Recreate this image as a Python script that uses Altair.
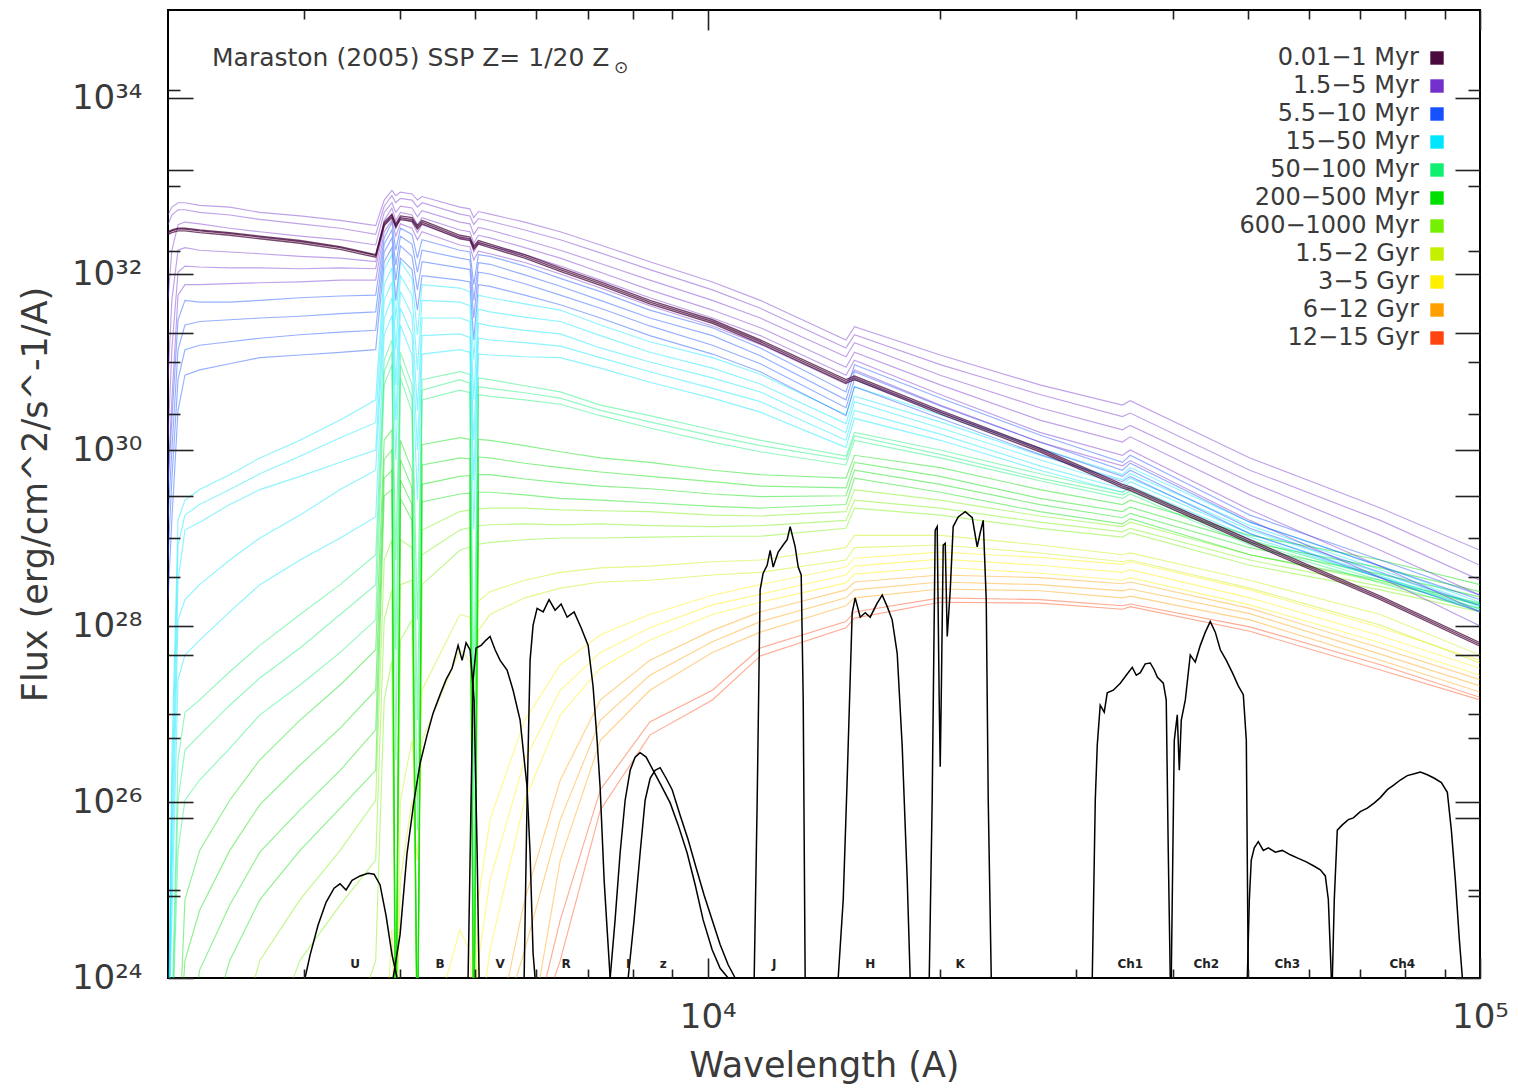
import sys
import altair as alt
import pandas as pd

W, H = 1312, 968
FONT = "DejaVu Sans"
TXT = "#3a3a3a"

# ---------------- age bins (legend) ----------------
AGE_BINS = ["0.01−1 Myr", "1.5−5 Myr", "5.5−10 Myr", "15−50 Myr", "50−100 Myr",
            "200−500 Myr", "600−1000 Myr", "1.5−2 Gyr", "3−5 Gyr", "6−12 Gyr", "12−15 Gyr"]
AGE_COLORS = ["#4a0a3e", "#7330cc", "#1650ff", "#00e6ff", "#10f070",
              "#00e000", "#74f000", "#c4f000", "#fff000", "#ffa000", "#ff4410"]

# ---------------- spectra: log10 wavelength grid (A) and log10 flux ----------------
LOGLAM_GRID = [3.301, 3.306, 3.314, 3.323, 3.342, 3.381, 3.420, 3.472, 3.524, 3.570,
               3.581, 3.591, 3.596, 3.602, 3.617, 3.624, 3.630, 3.679, 3.692, 3.697, 3.703, 3.718,
               3.763, 3.809, 3.861, 3.925, 4.006, 4.068, 4.179, 4.190, 4.301, 4.430,
               4.537, 4.547, 4.702, 4.871, 5.000]

A1 = [32.48, 32.50, 32.52, 32.52, 32.50, 32.47, 32.43, 32.38, 32.31, 32.22,
      32.59, 32.68, 32.57, 32.66, 32.64, 32.55, 32.61, 32.44, 32.42, 32.32, 32.38, 32.34,
      32.22, 32.07, 31.91, 31.70, 31.48, 31.25, 30.80, 30.84, 30.45, 30.02, 29.61, 29.58, 28.98, 28.34, 27.81]
A2 = [32.45, 32.47, 32.49, 32.49, 32.47, 32.44, 32.40, 32.35, 32.28, 32.19,
      32.55, 32.64, 32.53, 32.62, 32.60, 32.51, 32.57, 32.40, 32.38, 32.28, 32.34, 32.30,
      32.18, 32.03, 31.87, 31.66, 31.44, 31.21, 30.76, 30.80, 30.41, 29.98, 29.57, 29.54, 28.94, 28.30, 27.77]
A3 = [32.47, 32.49, 32.51, 32.51, 32.49, 32.46, 32.42, 32.37, 32.30, 32.21,
      32.57, 32.66, 32.55, 32.64, 32.62, 32.53, 32.59, 32.42, 32.40, 32.30, 32.36, 32.32,
      32.20, 32.05, 31.89, 31.68, 31.46, 31.23, 30.78, 30.82, 30.43, 30.00, 29.59, 29.56, 28.96, 28.32, 27.79]

B1 = [32.67, 32.76, 32.81, 32.81, 32.78, 32.76, 32.70, 32.66, 32.61, 32.55,
      32.84, 32.95, 32.89, 32.93, 32.91, 32.84, 32.88, 32.76, 32.74, 32.64, 32.71, 32.68,
      32.59, 32.48, 32.33, 32.14, 31.91, 31.70, 31.25, 31.40, 31.08, 30.74, 30.51, 30.56, 29.91, 29.34, 28.86]
B2 = [32.56, 32.67, 32.73, 32.73, 32.70, 32.67, 32.62, 32.57, 32.52, 32.45,
      32.77, 32.89, 32.81, 32.86, 32.84, 32.76, 32.81, 32.68, 32.66, 32.56, 32.63, 32.60,
      32.50, 32.39, 32.24, 32.05, 31.82, 31.61, 31.16, 31.31, 30.97, 30.63, 30.38, 30.42, 29.77, 29.20, 28.69]
B3 = [31.70, 32.27, 32.56, 32.59, 32.57, 32.52, 32.48, 32.43, 32.39, 32.33,
      32.70, 32.81, 32.70, 32.77, 32.75, 32.65, 32.72, 32.59, 32.57, 32.45, 32.53, 32.50,
      32.39, 32.27, 32.12, 31.93, 31.70, 31.50, 31.06, 31.22, 30.85, 30.48, 30.23, 30.28, 29.64, 29.03, 28.52]
B4 = [30.80, 31.70, 32.27, 32.30, 32.27, 32.25, 32.23, 32.20, 32.18, 32.14,
      32.61, 32.75, 32.61, 32.70, 32.67, 32.56, 32.64, 32.50, 32.48, 32.35, 32.44, 32.41,
      32.30, 32.18, 32.02, 31.82, 31.59, 31.39, 30.94, 31.11, 30.74, 30.34, 30.09, 30.15, 29.49, 28.86, 28.35]
B5 = [30.11, 31.14, 32.02, 32.09, 32.08, 32.07, 32.07, 32.06, 32.07, 32.06,
      32.55, 32.68, 32.52, 32.64, 32.59, 32.47, 32.56, 32.41, 32.39, 32.25, 32.35, 32.32,
      32.22, 32.09, 31.93, 31.73, 31.50, 31.30, 30.85, 31.02, 30.63, 30.20, 29.94, 30.00, 29.32, 28.68, 28.16]
B6 = [29.66, 30.57, 31.76, 31.88, 31.88, 31.89, 31.90, 31.91, 31.93, 31.93,
      32.48, 32.61, 32.43, 32.57, 32.52, 32.39, 32.48, 32.33, 32.31, 32.16, 32.26, 32.23,
      32.13, 32.00, 31.84, 31.64, 31.41, 31.20, 30.75, 30.91, 30.51, 30.09, 29.82, 29.88, 29.20, 28.55, 28.00]

C1 = [29.55, 30.34, 31.48, 31.70, 31.68, 31.68, 31.70, 31.73, 31.75, 31.76,
      32.41, 32.59, 32.27, 32.52, 32.45, 32.18, 32.39, 32.27, 32.25, 31.88, 32.22, 32.20,
      32.09, 31.95, 31.80, 31.59, 31.39, 31.16, 30.66, 30.97, 30.59, 30.17, 29.86, 29.94, 29.26, 28.75, 28.35]
C2 = [29.20, 30.00, 31.14, 31.42, 31.46, 31.48, 31.50, 31.52, 31.55, 31.57,
      32.34, 32.50, 32.10, 32.43, 32.34, 32.02, 32.27, 32.18, 32.16, 31.70, 32.13, 32.11,
      31.99, 31.86, 31.70, 31.50, 31.30, 31.07, 30.57, 30.89, 30.50, 30.09, 29.77, 29.85, 29.18, 28.68, 28.30]
C3 = [28.75, 29.66, 30.80, 31.14, 31.19, 31.23, 31.27, 31.31, 31.34, 31.36,
      32.25, 32.41, 31.93, 32.32, 32.20, 31.82, 32.14, 32.07, 32.05, 31.50, 32.02, 32.00,
      31.89, 31.76, 31.61, 31.41, 31.19, 30.98, 30.48, 30.80, 30.43, 30.02, 29.70, 29.77, 29.11, 28.61, 28.23]
C4 = [28.30, 29.20, 30.45, 30.85, 30.91, 30.98, 31.05, 31.08, 31.11, 31.14,
      32.14, 32.30, 31.70, 32.18, 32.05, 31.59, 31.98, 31.93, 31.91, 31.25, 31.88, 31.86,
      31.76, 31.65, 31.50, 31.30, 31.09, 30.89, 30.39, 30.72, 30.36, 29.95, 29.64, 29.70, 29.05, 28.55, 28.16]

D1 = [23.00, 26.48, 29.20, 29.43, 29.55, 29.72, 29.91, 30.11, 30.34, 30.57,
      32.05, 32.22, 31.48, 32.14, 31.95, 31.31, 31.88, 31.84, 31.80, 31.02, 31.76, 31.73,
      31.66, 31.59, 31.42, 31.23, 31.05, 30.86, 30.40, 30.72, 30.40, 30.02, 29.72, 29.80, 29.18, 28.68, 28.27]
D2 = [23.00, 26.02, 28.92, 29.26, 29.38, 29.55, 29.73, 29.93, 30.14, 30.31,
      31.88, 32.07, 31.14, 31.98, 31.76, 30.91, 31.70, 31.68, 31.64, 30.57, 31.60, 31.57,
      31.51, 31.46, 31.30, 31.11, 30.93, 30.75, 30.30, 30.61, 30.32, 29.94, 29.66, 29.73, 29.14, 28.64, 28.24]
D3 = [23.00, 25.57, 28.52, 29.09, 29.18, 29.38, 29.55, 29.70, 29.86, 30.00,
      31.70, 31.91, 30.74, 31.80, 31.53, 30.45, 31.50, 31.50, 31.46, 30.11, 31.44, 31.41,
      31.36, 31.32, 31.16, 31.00, 30.82, 30.66, 30.20, 30.55, 30.25, 29.89, 29.60, 29.68, 29.09, 28.60, 28.22]
D4 = [23.00, 25.11, 28.07, 28.30, 28.47, 28.75, 29.00, 29.26, 29.55, 29.77,
      31.50, 31.73, 30.34, 31.61, 31.31, 30.00, 31.30, 31.32, 31.28, 29.66, 31.27, 31.25,
      31.22, 31.18, 31.05, 30.89, 30.70, 30.55, 30.11, 30.45, 30.18, 29.82, 29.56, 29.64, 29.05, 28.57, 28.19]
D5 = [23.00, 24.66, 27.39, 27.67, 27.84, 28.16, 28.47, 28.75, 29.00, 29.24,
      31.31, 31.53, 29.89, 31.42, 31.08, 29.43, 31.09, 31.14, 31.11, 29.09, 31.09, 31.08,
      31.06, 31.05, 30.93, 30.77, 30.59, 30.43, 30.03, 30.36, 30.11, 29.77, 29.52, 29.59, 29.01, 28.55, 28.17]

E1 = [23.00, 23.50, 26.48, 27.02, 27.16, 27.48, 27.78, 28.13, 28.47, 28.81,
      31.02, 31.25, 28.75, 31.11, 30.74, 28.07, 30.80, 30.89, 30.86, 27.39, 30.82, 30.80,
      30.73, 30.66, 30.51, 30.39, 30.23, 30.11, 29.93, 30.20, 30.00, 29.73, 29.52, 29.57, 28.98, 28.55, 28.24]
E2 = [23.00, 23.30, 26.02, 26.59, 26.76, 27.10, 27.41, 27.75, 28.13, 28.47,
      30.89, 31.11, 27.73, 30.97, 30.59, 26.93, 30.68, 30.80, 30.76, 26.02, 30.72, 30.70,
      30.65, 30.59, 30.45, 30.32, 30.16, 30.05, 29.89, 30.16, 29.95, 29.68, 29.49, 29.53, 28.95, 28.52, 28.20]
E3 = [23.00, 23.20, 25.45, 26.02, 26.25, 26.61, 26.99, 27.33, 27.70, 28.07,
      30.74, 30.97, 26.48, 30.82, 30.43, 25.68, 30.57, 30.68, 30.65, 24.66, 30.63, 30.61,
      30.57, 30.52, 30.39, 30.25, 30.09, 29.98, 29.83, 30.11, 29.91, 29.65, 29.45, 29.50, 28.92, 28.49, 28.17]

F1 = [23.00, 23.00, 23.00, 24.89, 25.45, 26.02, 26.48, 26.93, 27.33, 27.73,
      30.11, 30.23, 23.00, 30.11, 29.77, 23.00, 30.06, 30.14, 30.12, 23.00, 30.12, 30.11,
      30.05, 29.98, 29.91, 29.86, 29.77, 29.72, 29.68, 29.94, 29.80, 29.55, 29.38, 29.43, 29.03, 28.75, 28.47]
F2 = [23.00, 23.00, 23.00, 24.20, 24.77, 25.45, 25.97, 26.42, 26.84, 27.27,
      29.89, 30.00, 23.00, 29.89, 29.57, 23.00, 29.83, 29.91, 29.90, 23.00, 29.92, 29.91,
      29.85, 29.80, 29.75, 29.70, 29.64, 29.59, 29.57, 29.86, 29.70, 29.45, 29.30, 29.35, 28.95, 28.66, 28.39]
F3 = [23.00, 23.00, 23.00, 23.00, 24.09, 24.83, 25.43, 25.91, 26.36, 26.82,
      29.68, 29.77, 23.00, 29.66, 29.38, 23.00, 29.61, 29.70, 29.71, 23.00, 29.72, 29.72,
      29.67, 29.63, 29.59, 29.56, 29.50, 29.47, 29.48, 29.77, 29.61, 29.38, 29.23, 29.28, 28.89, 28.59, 28.33]
F4 = [23.00, 23.00, 23.00, 23.00, 23.00, 24.20, 24.89, 25.45, 25.93, 26.36,
      29.48, 29.55, 23.00, 29.45, 29.20, 23.00, 29.41, 29.50, 29.51, 23.00, 29.52, 29.52,
      29.49, 29.45, 29.43, 29.40, 29.36, 29.34, 29.38, 29.68, 29.52, 29.30, 29.16, 29.22, 28.81, 28.52, 28.26]

G1 = [23.00, 23.00, 23.00, 23.00, 23.00, 23.00, 24.20, 24.89, 25.45, 26.02,
      28.75, 28.98, 23.00, 28.98, 28.89, 23.00, 29.09, 29.30, 29.32, 23.00, 29.33, 29.34,
      29.34, 29.32, 29.31, 29.30, 29.26, 29.25, 29.30, 29.55, 29.43, 29.25, 29.13, 29.18, 28.81, 28.50, 28.24]
G2 = [23.00, 23.00, 23.00, 23.00, 23.00, 23.00, 23.00, 24.20, 24.83, 25.34,
      28.07, 28.41, 23.00, 28.47, 28.52, 23.00, 28.81, 29.09, 29.12, 23.00, 29.14, 29.15,
      29.16, 29.15, 29.16, 29.14, 29.13, 29.14, 29.20, 29.43, 29.34, 29.18, 29.07, 29.11, 28.75, 28.45, 28.20]
G3 = [23.00, 23.00, 23.00, 23.00, 23.00, 23.00, 23.00, 23.00, 23.00, 24.20,
      27.16, 27.61, 23.00, 27.84, 28.07, 23.00, 28.47, 28.86, 28.90, 23.00, 28.93, 28.95,
      28.98, 29.00, 29.00, 29.01, 29.02, 29.02, 29.11, 29.34, 29.26, 29.11, 29.01, 29.06, 28.69, 28.41, 28.16]

H1 = [23.00, 23.00, 23.00, 23.00, 23.00, 23.00, 23.00, 23.00, 23.00, 23.00,
      23.00, 24.55, 23.00, 26.02, 26.70, 26.02, 27.27, 28.13, 28.10, 27.16, 28.28, 28.39,
      28.52, 28.61, 28.66, 28.68, 28.73, 28.75, 28.89, 29.03, 29.03, 28.92, 28.81, 28.83, 28.52, 28.13, 27.67]
H2 = [23.00, 23.00, 23.00, 23.00, 23.00, 23.00, 23.00, 23.00, 23.00, 23.00,
      23.00, 23.00, 23.00, 25.11, 26.02, 25.34, 26.70, 27.73, 27.60, 26.70, 27.95, 28.13,
      28.32, 28.43, 28.50, 28.52, 28.58, 28.61, 28.75, 28.89, 28.92, 28.83, 28.73, 28.75, 28.43, 28.01, 27.58]

I1 = [23.00, 23.00, 23.00, 23.00, 23.00, 23.00, 23.00, 23.00, 23.00, 23.00,
      23.00, 23.00, 23.00, 23.00, 23.00, 23.00, 23.00, 24.55, 24.30, 23.00, 24.90, 25.80,
      26.93, 27.56, 27.90, 28.13, 28.35, 28.47, 28.67, 28.77, 28.84, 28.78, 28.70, 28.73, 28.41, 27.98, 27.61]
I2 = [23.00, 23.00, 23.00, 23.00, 23.00, 23.00, 23.00, 23.00, 23.00, 23.00,
      23.00, 23.00, 23.00, 23.00, 23.00, 23.00, 23.00, 23.00, 23.00, 23.00, 24.20, 25.11,
      26.48, 27.27, 27.70, 27.98, 28.24, 28.36, 28.58, 28.68, 28.76, 28.69, 28.61, 28.64, 28.32, 27.89, 27.52]
I3 = [23.00, 23.00, 23.00, 23.00, 23.00, 23.00, 23.00, 23.00, 23.00, 23.00,
      23.00, 23.00, 23.00, 23.00, 23.00, 23.00, 23.00, 23.00, 23.00, 23.00, 23.30, 24.32,
      26.02, 26.99, 27.52, 27.84, 28.13, 28.27, 28.49, 28.59, 28.67, 28.60, 28.52, 28.55, 28.24, 27.81, 27.44]

J1 = [23.00, 23.00, 23.00, 23.00, 23.00, 23.00, 23.00, 23.00, 23.00, 23.00,
      23.00, 23.00, 23.00, 23.00, 23.00, 23.00, 23.00, 23.00, 23.00, 23.00, 23.00, 23.00,
      24.89, 26.25, 27.16, 27.61, 27.95, 28.16, 28.41, 28.50, 28.58, 28.55, 28.48, 28.50, 28.20, 27.75, 27.39]
J2 = [23.00, 23.00, 23.00, 23.00, 23.00, 23.00, 23.00, 23.00, 23.00, 23.00,
      23.00, 23.00, 23.00, 23.00, 23.00, 23.00, 23.00, 23.00, 23.00, 23.00, 23.00, 23.00,
      24.32, 25.80, 26.93, 27.44, 27.82, 28.05, 28.32, 28.41, 28.50, 28.47, 28.40, 28.42, 28.14, 27.68, 27.32]
J3 = [23.00, 23.00, 23.00, 23.00, 23.00, 23.00, 23.00, 23.00, 23.00, 23.00,
      23.00, 23.00, 23.00, 23.00, 23.00, 23.00, 23.00, 23.00, 23.00, 23.00, 23.00, 23.00,
      23.00, 25.34, 26.70, 27.27, 27.70, 27.93, 28.23, 28.32, 28.42, 28.40, 28.32, 28.34, 28.07, 27.61, 27.25]

K1 = [23.00, 23.00, 23.00, 23.00, 23.00, 23.00, 23.00, 23.00, 23.00, 23.00,
      23.00, 23.00, 23.00, 23.00, 23.00, 23.00, 23.00, 23.00, 23.00, 23.00, 23.00, 23.00,
      23.00, 24.66, 26.14, 26.91, 27.27, 27.75, 28.05, 28.16, 28.32, 28.30, 28.23, 28.25, 27.99, 27.56, 27.19]
K2 = [23.00, 23.00, 23.00, 23.00, 23.00, 23.00, 23.00, 23.00, 23.00, 23.00,
      23.00, 23.00, 23.00, 23.00, 23.00, 23.00, 23.00, 23.00, 23.00, 23.00, 23.00, 23.00,
      23.00, 24.20, 25.91, 26.76, 27.16, 27.66, 27.98, 28.09, 28.27, 28.26, 28.19, 28.22, 27.94, 27.50, 27.16]

SPECTRA = [
    ("12−15 Gyr", K1), ("12−15 Gyr", K2),
    ("6−12 Gyr", J1), ("6−12 Gyr", J2), ("6−12 Gyr", J3),
    ("3−5 Gyr", I1), ("3−5 Gyr", I2), ("3−5 Gyr", I3),
    ("1.5−2 Gyr", H1), ("1.5−2 Gyr", H2),
    ("600−1000 Myr", G1), ("600−1000 Myr", G2), ("600−1000 Myr", G3),
    ("200−500 Myr", F1), ("200−500 Myr", F2), ("200−500 Myr", F3), ("200−500 Myr", F4),
    ("50−100 Myr", E1), ("50−100 Myr", E2), ("50−100 Myr", E3),
    ("15−50 Myr", D1), ("15−50 Myr", D2), ("15−50 Myr", D3), ("15−50 Myr", D4), ("15−50 Myr", D5),
    ("5.5−10 Myr", C1), ("5.5−10 Myr", C2), ("5.5−10 Myr", C3), ("5.5−10 Myr", C4),
    ("1.5−5 Myr", B1), ("1.5−5 Myr", B2), ("1.5−5 Myr", B3), ("1.5−5 Myr", B4), ("1.5−5 Myr", B5), ("1.5−5 Myr", B6),
]
DARK_SPECTRA = [("0.01−1 Myr", A1), ("0.01−1 Myr", A2), ("0.01−1 Myr", A3)]

# ---------------- filter transmission curves (log10 wavelength, log10 plotted level) ----------------
U_LAM = [3.4785, 3.4850, 3.4953, 3.5057, 3.5161, 3.5238, 3.5316, 3.5394, 3.5497, 3.5601, 3.5679, 3.5756, 3.5834, 3.5912, 3.5977]
U_LVL = [24.00, 24.26, 24.60, 24.86, 25.02, 25.07, 25.00, 25.11, 25.16, 25.19, 25.18, 25.06, 24.71, 24.26, 24.00]
B_LAM = [3.5925, 3.6015, 3.6106, 3.6197, 3.6275, 3.6365, 3.6443, 3.6534, 3.6611, 3.6689, 3.6767, 3.6819, 3.6870, 3.6922, 3.6974, 3.7013, 3.7039]
B_LVL = [24.00, 24.49, 25.42, 26.02, 26.44, 26.76, 27.01, 27.22, 27.39, 27.52, 27.78, 27.61, 27.81, 27.73, 27.16, 25.45, 24.00]
V_LAM = [3.6896, 3.6935, 3.6961, 3.7000, 3.7065, 3.7129, 3.7181, 3.7246, 3.7311, 3.7401, 3.7479, 3.7570, 3.7660, 3.7699, 3.7738, 3.7764]
V_LVL = [24.00, 26.02, 27.39, 27.75, 27.78, 27.84, 27.88, 27.73, 27.61, 27.50, 27.27, 26.93, 26.17, 25.42, 24.28, 24.00]
R_LAM = [3.7622, 3.7660, 3.7699, 3.7738, 3.7790, 3.7868, 3.7945, 3.8023, 3.8101, 3.8179, 3.8269, 3.8360, 3.8451, 3.8515, 3.8567, 3.8606, 3.8658, 3.8697, 3.8736]
R_LVL = [24.00, 26.02, 27.61, 28.01, 28.20, 28.16, 28.30, 28.18, 28.25, 28.10, 28.16, 27.98, 27.78, 27.31, 26.70, 26.17, 25.11, 24.55, 24.00]
I_LAM = [3.8736, 3.8800, 3.8865, 3.8930, 3.8995, 3.9059, 3.9124, 3.9202, 3.9293, 3.9396, 3.9513, 3.9616, 3.9733, 3.9837, 3.9940, 4.0057, 4.0160, 4.0264]
I_LVL = [24.00, 24.66, 25.42, 26.02, 26.36, 26.51, 26.56, 26.51, 26.36, 26.19, 25.99, 25.74, 25.42, 25.06, 24.66, 24.32, 24.11, 24.00]
Z_LAM = [3.8969, 3.9046, 3.9124, 3.9189, 3.9254, 3.9318, 3.9383, 3.9461, 3.9539, 3.9642, 3.9746, 3.9850, 3.9953, 4.0057, 4.0160, 4.0264, 4.0355]
Z_LVL = [24.00, 24.66, 25.42, 26.02, 26.27, 26.36, 26.39, 26.27, 26.14, 25.85, 25.57, 25.25, 24.94, 24.66, 24.38, 24.15, 24.00]
J_LAM = [4.0601, 4.0640, 4.0678, 4.0717, 4.0769, 4.0808, 4.0847, 4.0912, 4.0976, 4.1028, 4.1067, 4.1132, 4.1171, 4.1210, 4.1236, 4.1261]
J_LVL = [24.00, 26.02, 28.41, 28.60, 28.69, 28.86, 28.67, 28.84, 28.92, 28.98, 29.13, 28.90, 28.67, 28.58, 27.16, 24.00]
H_LAM = [4.1689, 4.1754, 4.1805, 4.1870, 4.1909, 4.1974, 4.2039, 4.2103, 4.2194, 4.2259, 4.2324, 4.2388, 4.2453, 4.2518, 4.2583, 4.2621]
H_LVL = [24.00, 24.89, 26.25, 28.15, 28.32, 28.10, 28.15, 28.10, 28.26, 28.35, 28.22, 28.07, 27.69, 26.63, 25.11, 24.00]
K_LAM = [4.2868, 4.2906, 4.2945, 4.2971, 4.2997, 4.3010, 4.3023, 4.3049, 4.3075, 4.3101, 4.3140,
         4.3178, 4.3243, 4.3334, 4.3425, 4.3489, 4.3528, 4.3567, 4.3606, 4.3632, 4.3671]
K_LVL = [24.00, 26.02, 29.09, 29.13, 27.16, 26.40, 27.16, 28.92, 28.94, 27.88, 28.41,
         29.13, 29.24, 29.30, 29.23, 28.90, 29.06, 29.20, 28.30, 26.02, 24.00]
CH1_LAM = [4.4979, 4.5018, 4.5044, 4.5082, 4.5134, 4.5173, 4.5251, 4.5342, 4.5419, 4.5497,
           4.5549, 4.5601, 4.5665, 4.5730, 4.5782, 4.5821, 4.5899, 4.5937, 4.5963, 4.5989]
CH1_LVL = [24.00, 26.02, 26.65, 27.10, 27.02, 27.24, 27.27, 27.35, 27.44, 27.53,
           27.44, 27.47, 27.57, 27.58, 27.50, 27.42, 27.35, 27.16, 25.45, 24.00]
CH2_LAM = [4.6002, 4.6041, 4.6080, 4.6106, 4.6132, 4.6184, 4.6248, 4.6313, 4.6378, 4.6443,
           4.6507, 4.6572, 4.6637, 4.6715, 4.6793, 4.6870, 4.6935, 4.6974, 4.6999]
CH2_LVL = [24.00, 26.70, 26.99, 26.36, 26.93, 27.16, 27.67, 27.59, 27.78, 27.93,
           28.05, 27.93, 27.73, 27.61, 27.47, 27.32, 27.22, 26.70, 24.00]
CH3_LAM = [4.6987, 4.7013, 4.7038, 4.7077, 4.7129, 4.7194, 4.7259, 4.7349, 4.7440, 4.7544,
           4.7647, 4.7751, 4.7854, 4.7932, 4.7997, 4.8036, 4.8075]
CH3_LVL = [24.00, 24.89, 25.34, 25.48, 25.55, 25.45, 25.48, 25.43, 25.45, 25.40,
           25.36, 25.32, 25.27, 25.23, 25.16, 24.89, 24.00]
CH4_LAM = [4.8088, 4.8113, 4.8152, 4.8217, 4.8295, 4.8360, 4.8450, 4.8541, 4.8632, 4.8709, 4.8800, 4.8878,
           4.8968, 4.9059, 4.9150, 4.9228, 4.9318, 4.9409, 4.9500, 4.9577, 4.9629, 4.9681, 4.9733, 4.9772]
CH4_LVL = [24.00, 24.89, 25.68, 25.74, 25.80, 25.82, 25.89, 25.93, 25.99, 26.05, 26.14, 26.19,
           26.25, 26.30, 26.32, 26.34, 26.31, 26.27, 26.22, 26.11, 25.68, 25.11, 24.43, 24.00]

FILTERS = [("U", U_LAM, U_LVL), ("B", B_LAM, B_LVL), ("V", V_LAM, V_LVL), ("R", R_LAM, R_LVL),
           ("I", I_LAM, I_LVL), ("z", Z_LAM, Z_LVL), ("J", J_LAM, J_LVL), ("H", H_LAM, H_LVL),
           ("K", K_LAM, K_LVL), ("Ch1", CH1_LAM, CH1_LVL), ("Ch2", CH2_LAM, CH2_LVL),
           ("Ch3", CH3_LAM, CH3_LVL), ("Ch4", CH4_LAM, CH4_LVL)]

FILTER_NAMES = ["U", "B", "V", "R", "I", "z", "J", "H", "K", "Ch1", "Ch2", "Ch3", "Ch4"]
FILTER_LABEL_LOGLAM = [3.5433, 3.6534, 3.7311, 3.8166, 3.8969, 3.9422, 4.0860, 4.2103, 4.3269,
                       4.5471, 4.6456, 4.7505, 4.8994]

TITLE_TEXT = "Maraston (2005) SSP Z= 1/20 Z"
SUN_TEXT = "⊙"

# ---------------- build frames ----------------
def spectra_frame(items, start):
    rows = []
    for k, (age, vals) in enumerate(items):
        if len(vals) != len(LOGLAM_GRID):
            print("length mismatch", age, k, len(vals), file=sys.stderr)
        for ll, lf in zip(LOGLAM_GRID, vals):
            rows.append({"sid": start + k, "age": age, "wavelength": 10 ** ll, "flux": 10 ** lf})
    return pd.DataFrame(rows)

spec_df = spectra_frame(SPECTRA, 0)
dark_df = spectra_frame(DARK_SPECTRA, 100)

frows = []
for name, lam, lvl in FILTERS:
    if len(lam) != len(lvl):
        print("filter mismatch", name, file=sys.stderr)
    for i, (a, b) in enumerate(zip(lam, lvl)):
        frows.append({"band": name, "i": i, "wavelength": 10 ** a, "flux": 10 ** b})
filt_df = pd.DataFrame(frows)

flab_df = pd.DataFrame({"band": FILTER_NAMES, "wavelength": [10 ** v for v in FILTER_LABEL_LOGLAM]})
leg_df = pd.DataFrame({"age": AGE_BINS, "row": list(range(len(AGE_BINS)))})
title_df = pd.DataFrame({"t": [TITLE_TEXT], "s": [SUN_TEXT]})

XS = alt.Scale(type="log", domain=[2000, 100000], nice=False)
YS = alt.Scale(type="log", domain=[1e24, 1e35], nice=False)
CS = alt.Scale(domain=AGE_BINS, range=AGE_COLORS)

main = alt.Chart(spec_df).mark_line(clip=True, strokeWidth=1.15, opacity=0.45).encode(
    x=alt.X("wavelength:Q", scale=XS, axis=None),
    y=alt.Y("flux:Q", scale=YS, axis=None),
    color=alt.Color("age:N", scale=CS, legend=None),
    detail="sid:N",
)
dark = alt.Chart(dark_df).mark_line(clip=True, strokeWidth=1.4, opacity=0.75).encode(
    x=alt.X("wavelength:Q", scale=XS, axis=None),
    y=alt.Y("flux:Q", scale=YS, axis=None),
    color=alt.Color("age:N", scale=CS, legend=None),
    detail="sid:N",
)
filt = alt.Chart(filt_df).mark_line(clip=True, color="black", strokeWidth=1.5).encode(
    x=alt.X("wavelength:Q", scale=XS, axis=None),
    y=alt.Y("flux:Q", scale=YS, axis=None),
    detail="band:N",
    order="i:Q",
)
flabels = alt.Chart(flab_df).mark_text(font=FONT, fontSize=12, fontWeight="bold", color="#222222",
                                       baseline="middle", align="center").encode(
    x=alt.X("wavelength:Q", scale=XS, axis=None),
    y=alt.value(H - 14),
    text="band:N",
)
LEG_Y = alt.Y("row:O", scale=alt.Scale(type="point", range=[48, 328], padding=0), axis=None)
leg_sq = alt.Chart(leg_df).mark_square(size=180, opacity=1).encode(
    x=alt.value(1269), y=LEG_Y, color=alt.Color("age:N", scale=CS, legend=None))
leg_txt = alt.Chart(leg_df).mark_text(font=FONT, fontSize=24, color=TXT, align="right",
                                      baseline="middle").encode(
    x=alt.value(1251), y=LEG_Y, text="age:N")
title1 = alt.Chart(title_df).mark_text(font=FONT, fontSize=25, color=TXT, align="left",
                                       baseline="middle").encode(
    x=alt.value(44), y=alt.value(48), text="t:N")
title2 = alt.Chart(title_df).mark_text(font=FONT, fontSize=17, color=TXT, align="left",
                                       baseline="middle").encode(
    x=alt.value(446), y=alt.value(58), text="s:N")

# ---------------- axes ----------------
SUP = str.maketrans("0123456789", "⁰¹²³⁴⁵⁶⁷⁸⁹")
Y_LABEL_EXP = [24, 26, 28, 30, 32, 34]
y_expr = ""
for e in Y_LABEL_EXP:
    y_expr += "round(log(datum.value)/LN10) == %d ? '10%s' : " % (e, str(e).translate(SUP))
y_expr += "''"

X_MINOR = [3000, 4000, 5000, 6000, 7000, 8000, 9000, 20000, 30000, 40000, 50000, 60000, 70000, 80000, 90000]
X_MAJOR = [10000, 100000]
Y_LONG_EXP = [24, 26, 28, 30, 32, 34, 33.18, 31.33, 29.48, 27.67, 25.82]
Y_SHORT_EXP = [25, 27, 29, 31, 33, 34.09, 32.26, 30.41, 28.56, 26.73, 24.93]
Y_LONG = [10 ** v for v in Y_LONG_EXP]
Y_SHORT = [10 ** v for v in Y_SHORT_EXP]

x_lab_axis = alt.Axis(orient="bottom", values=X_MAJOR,
                      labelExpr="datum.value < 50000 ? '10⁴' : '10⁵'",
                      ticks=False, tickSize=0, domain=False, grid=False,
                      labelFont=FONT, labelFontSize=34, labelColor=TXT, labelPadding=22,
                      labelFlush=False, labelOverlap=False,
                      title="Wavelength (A)", titleFont=FONT, titleFontSize=35,
                      titleFontWeight="normal", titleColor=TXT, titlePadding=14)
y_lab_axis = alt.Axis(orient="left", values=[10 ** e for e in Y_LABEL_EXP], labelExpr=y_expr,
                      ticks=False, tickSize=0, domain=False, grid=False,
                      labelFont=FONT, labelFontSize=34, labelColor=TXT, labelPadding=26,
                      labelFlush=False, labelOverlap=False,
                      title="Flux (erg/cm^2/s^-1/A)", titleFont=FONT, titleFontSize=35,
                      titleFontWeight="normal", titleColor=TXT, titlePadding=18)


def tick_axis(orient, values, size, offset):
    return alt.Axis(orient=orient, values=values, offset=offset, tickSize=size, tickWidth=1.6,
                    tickColor="#222222", labels=False, domain=False, grid=False, title=None, zindex=1)


def axis_layer(xax, yax):
    return alt.Chart(filt_df).mark_point(opacity=0).encode(
        x=alt.X("wavelength:Q", scale=XS, axis=xax),
        y=alt.Y("flux:Q", scale=YS, axis=yax),
    )


ax1 = axis_layer(x_lab_axis, y_lab_axis)
ax2 = axis_layer(tick_axis("top", X_MINOR, 9, -H), tick_axis("right", Y_SHORT, 12, -W))
ax3 = axis_layer(tick_axis("top", X_MAJOR, 20, -H), tick_axis("right", Y_LONG, 25, -W))
ax4 = axis_layer(tick_axis("bottom", X_MINOR, 9, -H), tick_axis("left", Y_SHORT, 12, -W))
ax5 = axis_layer(tick_axis("bottom", X_MAJOR, 20, -H), tick_axis("left", Y_LONG, 25, -W))

chart = alt.layer(main, dark, filt, flabels, leg_sq, leg_txt, title1, title2,
                  ax1, ax2, ax3, ax4, ax5).resolve_scale(
    x="independent", y="independent"
).resolve_axis(
    x="independent", y="independent"
).properties(
    width=W, height=H,
    padding={"left": 168, "top": 10, "right": 38, "bottom": 112},
    autosize=alt.AutoSizeParams(type="none"),
    background="white",
).configure_view(stroke="black", strokeWidth=2)

chart.save("out.html", embed_options={"renderer": "svg", "actions": False})
